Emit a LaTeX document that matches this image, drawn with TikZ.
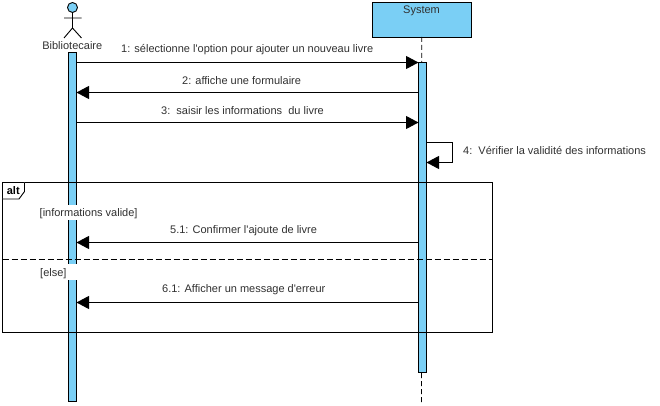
\documentclass[tikz,border=0pt]{standalone}
\usepackage{fontspec}
\setmainfont{Liberation Sans}
\usetikzlibrary{arrows.meta}
\definecolor{barblue}{HTML}{7ACFF5}
\definecolor{inktext}{HTML}{303030}
\tikzset{
  line/.style={draw=black,line width=0.9pt},
  bar/.style={line,fill=barblue,minimum width=8pt,inner sep=0pt,outer sep=0pt,anchor=north},
  msg/.style={line,-{Triangle[length=12.5pt,width=13pt,fill=black]}},
  plain/.style={line},
  label/.style={text=inktext,font=\fontsize{11}{13}\selectfont,inner sep=0pt,anchor=west},
  lifeline/.style={line,dash pattern=on 5pt off 3pt},
  fragdash/.style={line,dash pattern=on 6pt off 3pt},
}
\begin{document}
\begin{tikzpicture}[x=1pt,y=-1pt]
\useasboundingbox (0,0) rectangle (660,406);
% named heights
\coordinate (m1) at (0,62.5);
\coordinate (m2) at (0,92.5);
\coordinate (m3) at (0,122.5);
\coordinate (m4) at (0,142.5);
\coordinate (m4b) at (0,162.5);
\coordinate (m5) at (0,242.5);
\coordinate (m6) at (0,302.5);
\coordinate (loopx) at (452.5,0);
% system head + lifeline
\node[line,fill=barblue,minimum width=98.5pt,minimum height=34.5pt,inner sep=0pt,outer sep=0pt,anchor=north west] (sys) at (372.5,2.5) {};
\node[label,anchor=center] (systxt) at (421.5,10.8) {System};
\coordinate (lifeend) at (421.5,403);
\draw[lifeline] (sys.south) -- (lifeend);
% actor
\node[line,circle,fill=barblue,minimum size=10pt,inner sep=0pt,outer sep=0pt] (head) at (72.5,7.5) {};
\coordinate (hip) at (72.5,28);
\coordinate (armL) at (64,18);
\coordinate (armR) at (81.5,18);
\coordinate (legL) at (64,38);
\coordinate (legR) at (81.5,38);
\draw[plain] (head.south) -- (hip) (armL) -- (armR) (legL) -- (hip) -- (legR);
\node[label,anchor=center] (actor) at (72.3,46) {Bibliotecaire};
% activation bars
\node[bar,minimum height=349pt] (la) at (72.5,52.5) {};
\node[bar,minimum height=310pt] (ra) at (422.5,62.5) {};
% messages
\draw[msg] (la.east |- m1) -- (ra.west |- m1);
\draw[msg] (ra.west |- m2) -- (la.east |- m2);
\draw[msg] (la.east |- m3) -- (ra.west |- m3);
\draw[msg] (ra.east |- m4) -| (loopx |- m4b) -- (ra.east |- m4b);
\draw[msg] (ra.west |- m5) -- (la.east |- m5);
\draw[msg] (ra.west |- m6) -- (la.east |- m6);
% message labels
\node[label] (t1) at (121,50) {1: sélectionne l\textquotesingle option pour ajouter un nouveau livre};
\node[label] (t2) at (182,80.5) {2: affiche une formulaire};
\node[label] (t3) at (161,110.5) {3:\ \ saisir les informations\ \ du livre};
\node[label] (t4) at (463,150.5) {4:\ \ Vérifier la validité des informations};
\node[label] (t5) at (170,230.5) {5.1: Confirmer l\textquotesingle ajoute de livre};
\node[label] (t6) at (162,290) {6.1: Afficher un message d\textquotesingle erreur};
% fragment
\node[line,minimum width=490pt,minimum height=149.5pt,inner sep=0pt,outer sep=0pt,anchor=north west] (frame) at (2.5,182.5) {};
\coordinate (tabA) at (24.5,182.5);
\coordinate (tabB) at (24.5,191.5);
\coordinate (tabC) at (19,199);
\coordinate (tabD) at (2.5,199);
\draw[plain,fill=white] (tabA) -- (tabB) -- (tabC) -- (tabD);
\node[label,anchor=center,font=\fontsize{11}{13}\selectfont\bfseries,text=black] (alt) at (13.3,191) {alt};
\coordinate (divL) at (frame.west |- 0,259.5);
\coordinate (divR) at (frame.east |- 0,259.5);
\draw[fragdash] (divL) -- (divR);
\fill[white] (39,205) rectangle (137,220);
\fill[white] (39,264) rectangle (77,280);
\node[label] (g1) at (39.5,213.5) {[informations valide]};
\node[label] (g2) at (40,273.5) {[else]};
\end{tikzpicture}
\end{document}
